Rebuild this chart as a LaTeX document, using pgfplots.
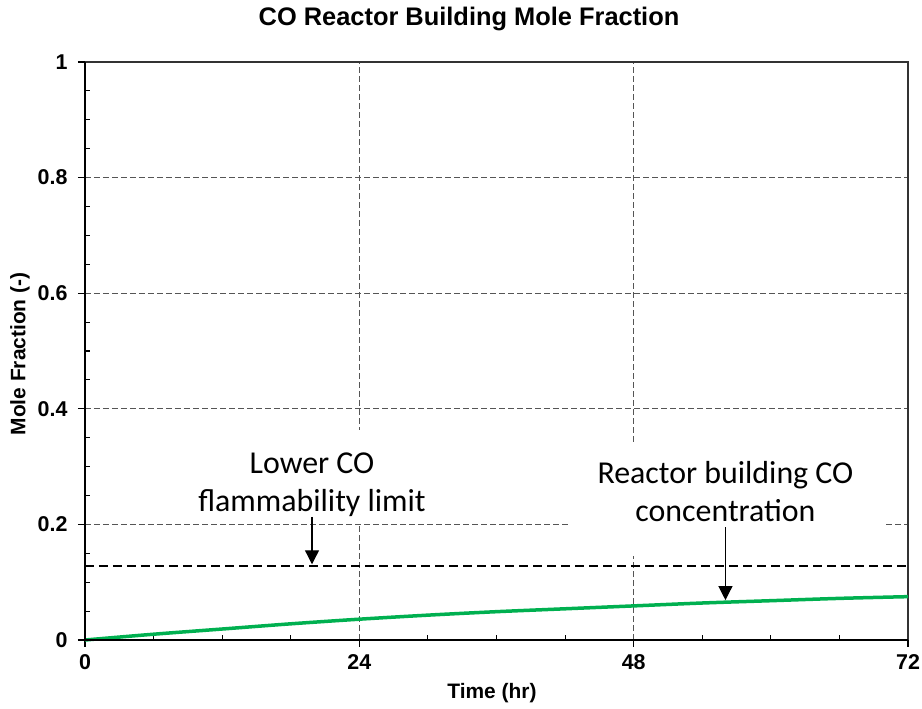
\documentclass[border=0pt]{standalone}
\usepackage{fontspec}
\setmainfont{Liberation Sans}
\newfontfamily\calibri{Carlito}
\usepackage{pgfplots}
\pgfplotsset{compat=1.18}
\usetikzlibrary{arrows.meta, calc}
\definecolor{cogreen}{HTML}{00B050}
\definecolor{gridgray}{HTML}{555555}

\begin{document}
\begin{tikzpicture}
\begin{axis}[
    scale only axis,
    width=823bp, height=578bp,
    xmin=0, xmax=72, ymin=0, ymax=1,
    xtick={0,24,48,72},
    ytick={0,0.2,0.4,0.6,0.8,1},
    minor x tick num=3,
    minor y tick num=3,
    xtick pos=bottom, ytick pos=left,
    tick align=inside,
    major tick length=0bp,
    minor tick length=5bp,
    tick style={black, line width=1.1bp},
    extra x ticks={0,24,48,72}, extra x tick labels={},
    extra x tick style={grid=none, tick align=outside, major tick length=7bp},
    extra y ticks={0,0.2,0.4,0.6,0.8,1}, extra y tick labels={},
    extra y tick style={grid=none, tick align=outside, major tick length=7bp},
    grid=major,
    grid style={gridgray, line width=0.8bp, dash pattern=on 6bp off 3bp},
    axis line style={black!80, line width=1.3bp},
    /pgf/number format/assume math mode=true,
    ticklabel style={font=\fontsize{21.5}{21.5}\selectfont\bfseries},
    xticklabel style={yshift=-11bp},
    yticklabel style={xshift=-14bp},
    clip=false,
]
% white boxes behind the annotations
\fill[white] (axis cs:5.95,0.2007) rectangle (axis cs:32.98,0.363);
\fill[white] (axis cs:42.26,0.1453) rectangle (axis cs:69.81,0.3426);

% lower flammability limit
\addplot[black, line width=2.4bp, dash pattern=on 9bp off 5bp] coordinates {(0,0.128) (72,0.128)};

% reactor building CO mole fraction
\addplot[cogreen, line width=3.5bp, smooth] coordinates {
    (0,0) (6,0.010) (12,0.019) (18,0.028) (24,0.036) (30,0.043) (36,0.049)
    (42,0.054) (48,0.059) (54,0.064) (60,0.068) (66,0.072) (72,0.075)
};

% annotations
\node[font=\calibri\fontsize{32}{32}\selectfont, anchor=base] at (axis cs:19.86,0.2889) {Lower CO};
\node[font=\calibri\fontsize{32}{32}\selectfont, anchor=base] at (axis cs:19.86,0.2215) {flammability limit};
\draw[line width=1.2bp, -{Triangle[width=14bp,length=14bp]}] (axis cs:19.86,0.213) -- (axis cs:19.86,0.131);

\node[font=\calibri\fontsize{32}{32}\selectfont, anchor=base] at (axis cs:56.03,0.2716) {Reactor building CO};
\node[font=\calibri\fontsize{32}{32}\selectfont, anchor=base] at (axis cs:56.03,0.2042) {concentration};
\draw[line width=1.2bp, -{Triangle[width=14bp,length=14bp]}] (axis cs:56.03,0.1955) -- (axis cs:56.03,0.069);

% thick left and bottom axis lines
\draw[black, line width=2.6bp] (rel axis cs:0,1) -- (rel axis cs:0,0) -- (rel axis cs:1,0);

% titles and labels
\node[font=\fontsize{25.5}{25.5}\selectfont\bfseries] at (rel axis cs:0.4666,1.0744) {CO Reactor Building Mole Fraction};
\node[font=\fontsize{21}{21}\selectfont\bfseries] at (rel axis cs:0.4945,-0.0917) {Time (hr)};
\node[font=\fontsize{21}{21}\selectfont\bfseries, rotate=90] at (rel axis cs:-0.079,0.495) {Mole Fraction (-)};
\end{axis}
\pgfresetboundingbox
\path[use as bounding box] ($(current axis.south west)+(-85bp,-69bp)$) rectangle ($(current axis.north east)+(14bp,62bp)$);
\end{tikzpicture}
\end{document}
